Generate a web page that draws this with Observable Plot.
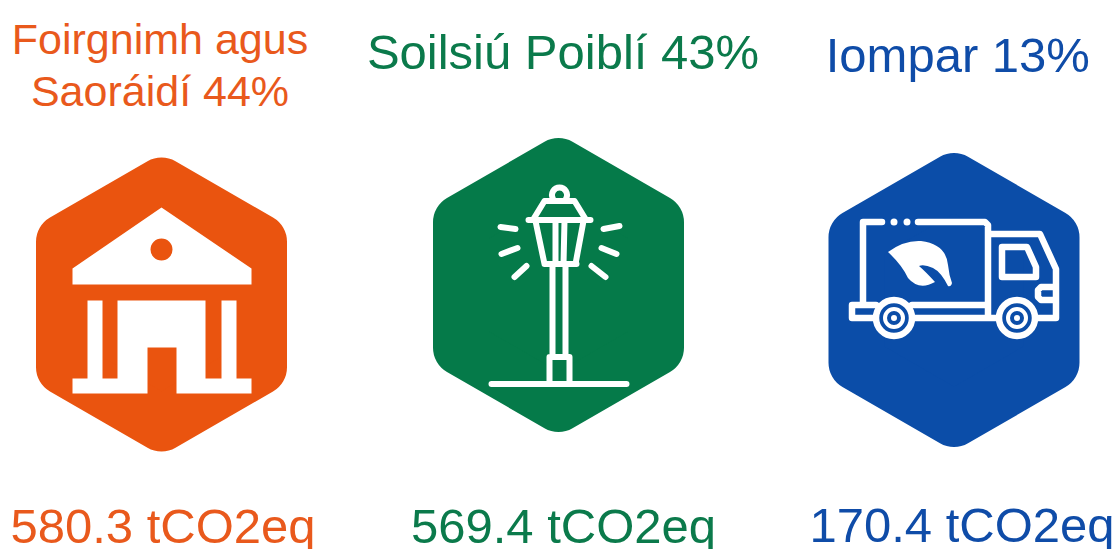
<!DOCTYPE html>
<html><head><meta charset="utf-8">
<script src="https://cdn.jsdelivr.net/npm/d3@7"></script>
<script src="https://cdn.jsdelivr.net/npm/@observablehq/plot@0.6"></script>
<style>html,body{margin:0;padding:0;background:#fff;overflow:hidden}svg{display:block}</style>
</head><body><div id="chart"></div>
<script>
const sectors = ["Foirgnimh agus\nSaoráidí", "Soilsiú Poiblí", "Iompar"];
const shares = [44, 43, 13];
const emissions = [580.3, 569.4, 170.4];
const unit = "tCO2eq";
const colors = ["#EA540F", "#057A49", "#0B4DA8"];
const textColors = ["#E9591C", "#0B7A4B", "#0F4CA8"];

// Layout, separate from the data
const iconY = [304, 284.5, 299.5];
const iconDx = [-1, 0, -0.5];
const titleY = [62.6, 48.8, 52.3];
const titleDx = [-2.5, 4.5, 3.3];
const titleSize = [43, 49, 49];
const valueY = [527, 527, 526.3];
const valueDx = [0.5, 5, 7.5];

const table = sectors.map((sector, i) => ({
  sector, share: shares[i], emission: emissions[i],
  color: colors[i], textColor: textColors[i],
  iconY: iconY[i], iconDx: iconDx[i], titleY: titleY[i], titleDx: titleDx[i], titleSize: titleSize[i], valueY: valueY[i], valueDx: valueDx[i]
}));

// Pictograms: custom Plot.dot symbols, in pixels around the dot's centre
const poly = (c, pts, close = true) => {
  pts.forEach(([x, y], i) => i ? c.lineTo(x, y) : c.moveTo(x, y));
  if (close) c.closePath();
};
const circle = (c, x, y, r, ccw = false) => {
  c.moveTo(x + r, y);
  c.arc(x, y, r, 0, 2 * Math.PI, ccw);
  c.closePath();
};
const hexagon = {draw(c) {
  const hw = 97.5, top = 119, side = 62.7;
  poly(c, [[0, -top], [hw, -side], [hw, side], [0, top], [-hw, side], [-hw, -side]]);
}};
const building = {draw(c) {
  poly(c, [[0, -97], [90, -36], [90, -20], [-89, -20], [-89, -36]]);
  circle(c, 0, -55, 11, true);
  poly(c, [[-74, -4], [-59, -4], [-59, 74], [-44, 74], [-44, -4], [44, -4], [44, 74], [60, 74], [60, -4], [75, -4], [75, 74], [90, 74], [90, 89], [15, 89], [15, 43], [-14, 43], [-14, 89], [-89, 89], [-89, 74], [-74, 74]]);
}};
const lamp = {draw(c) {
  poly(c, [[-67, 99], [68, 99]], false);
  poly(c, [[-9, 96], [-9, 72], [11, 72], [11, 96]], false);
  poly(c, [[-6, 72], [-6, -21]], false);
  poly(c, [[7, 72], [7, -21]], false);
  poly(c, [[-14, -21], [18, -21]], false);
  poly(c, [[-30, -65], [32, -65]], false);
  poly(c, [[-23, -64], [-14, -21]], false);
  poly(c, [[25, -64], [17, -21]], false);
  poly(c, [[-3, -64], [-3, -21]], false);
  poly(c, [[6, -64], [5, -21]], false);
  poly(c, [[-25, -66], [-14, -84], [16, -84], [27, -66]], false);
  c.moveTo(-6, -84); c.arc(1, -90, 7.5, Math.PI * 0.85, Math.PI * 0.15);
  for (const ray of [[[-58, -58], [-43, -56]], [[-57, -31], [-41, -37]], [[-44, -8], [-32, -19]],
                     [[45, -56], [61, -59]], [[43, -37], [58, -31]], [[33, -19], [47, -8]]]) poly(c, ray, false);
}};
const truck = {draw(c) {
  poly(c, [[-72, -78], [-91, -78], [-91, 3]], false);
  poly(c, [[-36, -78], [31, -78], [34, -75], [34, 16]], false);
  poly(c, [[34, -66], [86, -66], [102, -31], [102, 18], [82, 18]], false);
  poly(c, [[102, -13], [87, -13], [84, -10], [84, -3], [87, 0], [102, 0]], false);
  poly(c, [[48, -53], [73, -53], [82, -33], [82, -23], [48, -23]]);
  poly(c, [[-79, 18], [-102, 18], [-102, 5], [-78, 5]], false);
  poly(c, [[-42, 5], [34, 5]], false);
  poly(c, [[-42, 18], [44, 18]], false);
  circle(c, -60, 18, 18);
  circle(c, 63, 18, 18);
}};
const truckFine = {draw(c) {
  circle(c, -60, 18, 9);
  circle(c, 63, 18, 9);
}};
const truckSolid = {draw(c) {
  circle(c, -60, -78, 3.5);
  circle(c, -47, -78, 3.5);
  circle(c, -60, 18, 3);
  circle(c, 63, 18, 3);
  c.moveTo(-66, -48);
  c.quadraticCurveTo(-50, -60, -33, -59);
  c.quadraticCurveTo(-8, -56, -6, -35);
  c.quadraticCurveTo(-5, -25, -2, -17);
  c.quadraticCurveTo(-3, -13, -6, -14);
  c.quadraticCurveTo(-13, -28, -21, -32);
  c.quadraticCurveTo(-30, -36, -35, -34);
  c.quadraticCurveTo(-28, -28, -19, -18);
  c.quadraticCurveTo(-35, -9, -46, -22);
  c.quadraticCurveTo(-52, -35, -66, -48);
  c.closePath();
}};

const font = "Liberation Sans";
const icon = (d, symbol, options) => Plot.dot([d], {x: "sector", y: "iconY", dx: d.iconDx, r: 100, symbol, ...options});
const line = {fill: "none", stroke: "#fff", strokeLinecap: "round", strokeLinejoin: "round"};
const chart = Plot.plot({
  width: 1117, height: 549,
  marginTop: 0, marginRight: 0, marginBottom: 0, marginLeft: 0,
  style: {background: "#fff"},
  x: {type: "point", domain: sectors, range: [161, 954.5], padding: 0, axis: null},
  y: {domain: [0, 549], range: [0, 549], axis: null},
  marks: [
    ...table.map(d => icon(d, hexagon, {fill: "color", stroke: "color", strokeWidth: 56, strokeLinejoin: "round"})),
    icon(table[0], building, {fill: "#fff", stroke: "none"}),
    icon(table[1], lamp, {...line, strokeWidth: 6}),
    icon(table[2], truck, {...line, strokeWidth: 6.5}),
    icon(table[2], truckFine, {fill: "none", stroke: "#fff", strokeWidth: 4}),
    icon(table[2], truckSolid, {fill: "#fff", stroke: "none"}),
    ...table.map(d => Plot.text([d], {x: "sector", y: "titleY", text: d => `${d.sector} ${d.share}%`, dx: d.titleDx, fill: "textColor", fontSize: d.titleSize, fontFamily: font, lineHeight: 1.23, textAnchor: "middle", lineAnchor: "middle"})),
    ...table.map(d => Plot.text([d], {x: "sector", y: "valueY", text: d => `${d.emission} ${unit}`, dx: d.valueDx, fill: "textColor", fontSize: 49, fontFamily: font, textAnchor: "middle", lineAnchor: "middle"}))
  ]
});
document.getElementById("chart").append(chart);
</script></body></html>
